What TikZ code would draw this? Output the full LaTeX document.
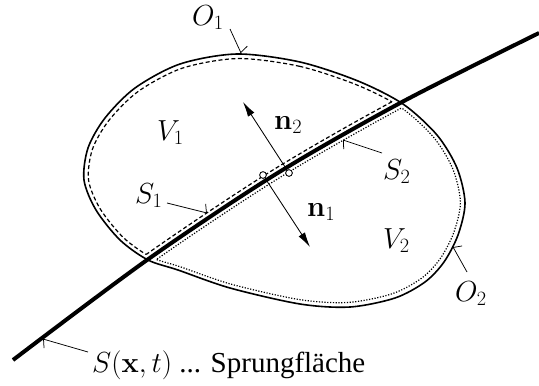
\RequirePackage{fix-cm}
\documentclass[tikz,border=0pt]{standalone}
\usepackage[no-math]{fontspec}
\setmainfont{Liberation Serif}
\usetikzlibrary{arrows.meta}
\tikzset{
  lbl/.style={font=\fontsize{29bp}{35bp}\selectfont, inner sep=0pt, anchor=base west},
  rimline/.style={line width=1.6bp},
  jumpline/.style={line width=4bp},
  dashrim/.style={line width=1.2bp, dash pattern=on 4bp off 2.5bp},
  dotrim/.style={line width=1.2bp, dash pattern=on 1.2bp off 1.6bp},
  leadline/.style={line width=0.75bp, -{Straight Barb[harpoon,length=3bp,width=17bp]}},
  leadlineswap/.style={line width=0.75bp, -{Straight Barb[harpoon,swap,length=3bp,width=17bp]}},
  nvec/.style={line width=0.85bp, -{Latex[length=15bp,width=7.5bp]}},
  smallcirc/.style={circle, draw, fill=white, line width=0.75bp, minimum size=6.6bp, inner sep=0pt},
  insetxf/.style={shift={(273.5,180.5)}, xscale=0.976, yscale=0.964, shift={(-273.5,-180.5)}},
}
\begin{document}
\begin{tikzpicture}[x=1bp,y=-1bp]
\useasboundingbox (0,0) rectangle (539,385);

% outer closed surface O
\draw[rimline] plot[smooth cycle] coordinates {(237,54) (300,62) (358,81) (403,104) (437,135) (457,168) (465,203) (458,235) (444,262) (425,282) (395,298) (350,307) (300,304) (230,288) (178,270) (148,260) (120,240) (96,210) (84,180) (88,148) (105,118) (135,88) (180,64)};

% O1 (dashed, upper-left part of inset surface)
\begin{scope}
\clip[shift={(-2.6,-4.3)}] plot[smooth] coordinates {(13,360) (147,260) (276,174) (402,102) (539,33)} -- (600,-60) -- (-60,-60) -- (-60,356) -- cycle;
\draw[dashrim, insetxf] plot[smooth cycle] coordinates {(237,54) (300,62) (358,81) (403,104) (437,135) (457,168) (465,203) (458,235) (444,262) (425,282) (395,298) (350,307) (300,304) (230,288) (178,270) (148,260) (120,240) (96,210) (84,180) (88,148) (105,118) (135,88) (180,64)};
\end{scope}
% S1 (dashed, along the jump surface)
\begin{scope}
\clip[insetxf] plot[smooth cycle] coordinates {(237,54) (300,62) (358,81) (403,104) (437,135) (457,168) (465,203) (458,235) (444,262) (425,282) (395,298) (350,307) (300,304) (230,288) (178,270) (148,260) (120,240) (96,210) (84,180) (88,148) (105,118) (135,88) (180,64)};
\draw[dashrim, shift={(-2.6,-4.3)}] plot[smooth] coordinates {(13,360) (147,260) (276,174) (402,102) (539,33)};
\end{scope}

% O2 (dotted, lower-right part of inset surface)
\begin{scope}
\clip[shift={(2.6,4.3)}] plot[smooth] coordinates {(13,360) (147,260) (276,174) (402,102) (539,33)} -- (600,33) -- (600,450) -- (-60,450) -- (-60,360) -- cycle;
\draw[dotrim, insetxf] plot[smooth cycle] coordinates {(237,54) (300,62) (358,81) (403,104) (437,135) (457,168) (465,203) (458,235) (444,262) (425,282) (395,298) (350,307) (300,304) (230,288) (178,270) (148,260) (120,240) (96,210) (84,180) (88,148) (105,118) (135,88) (180,64)};
\end{scope}
% S2 (dotted, along the jump surface)
\begin{scope}
\clip[insetxf] plot[smooth cycle] coordinates {(237,54) (300,62) (358,81) (403,104) (437,135) (457,168) (465,203) (458,235) (444,262) (425,282) (395,298) (350,307) (300,304) (230,288) (178,270) (148,260) (120,240) (96,210) (84,180) (88,148) (105,118) (135,88) (180,64)};
\draw[dotrim, shift={(2.6,4.3)}] plot[smooth] coordinates {(13,360) (147,260) (276,174) (402,102) (539,33)};
\end{scope}

% jump surface S(x,t)
\draw[jumpline] plot[smooth] coordinates {(13,360) (147,260) (276,174) (402,102) (539,33)};

% labels
\node[lbl] (O1) at (192,25) {$O_1$};
\node[lbl] (V1) at (157,140) {$V_1$};
\node[lbl] (n2) at (274,129.5) {$\mathbf{n}_2$};
\node[lbl] (n1) at (307,216.5) {$\mathbf{n}_1$};
\node[lbl] (S1) at (135,203) {$S_1$};
\node[lbl] (S2) at (383,179) {$S_2$};
\node[lbl] (V2) at (383,248) {$V_2$};
\node[lbl] (O2) at (455,301) {$O_2$};
\node[lbl] (Sf) at (92,372) {$S(\mathbf{x},t)$ ... Sprungfläche};

% leader lines
\coordinate (O1a) at (230,29);  \coordinate (O1b) at (241,53);
\coordinate (S1a) at (167,203); \coordinate (S1b) at (207,213);
\coordinate (S2a) at (382,153); \coordinate (S2b) at (343,140);
\coordinate (O2a) at (467,272); \coordinate (O2b) at (453,247);
\coordinate (Sfa) at (88,352);  \coordinate (Sfb) at (43,339);
\draw[leadline] (O1a) -- (O1b);
\draw[leadline] (S1a) -- (S1b);
\draw[leadline] (S2a) -- (S2b);
\draw[leadlineswap] (O2a) -- (O2b);
\draw[leadline] (Sfa) -- (Sfb);

% normal vectors
\node[smallcirc] (c1) at (263,175) {};
\node[smallcirc] (c2) at (289,173) {};
\coordinate (n2tip) at (243,102);
\coordinate (n1tip) at (310,247);
\draw[nvec] (c2) -- (n2tip);
\draw[nvec] (c1) -- (n1tip);
\node[smallcirc] at (c1) {};
\node[smallcirc] at (c2) {};
\end{tikzpicture}
\end{document}
